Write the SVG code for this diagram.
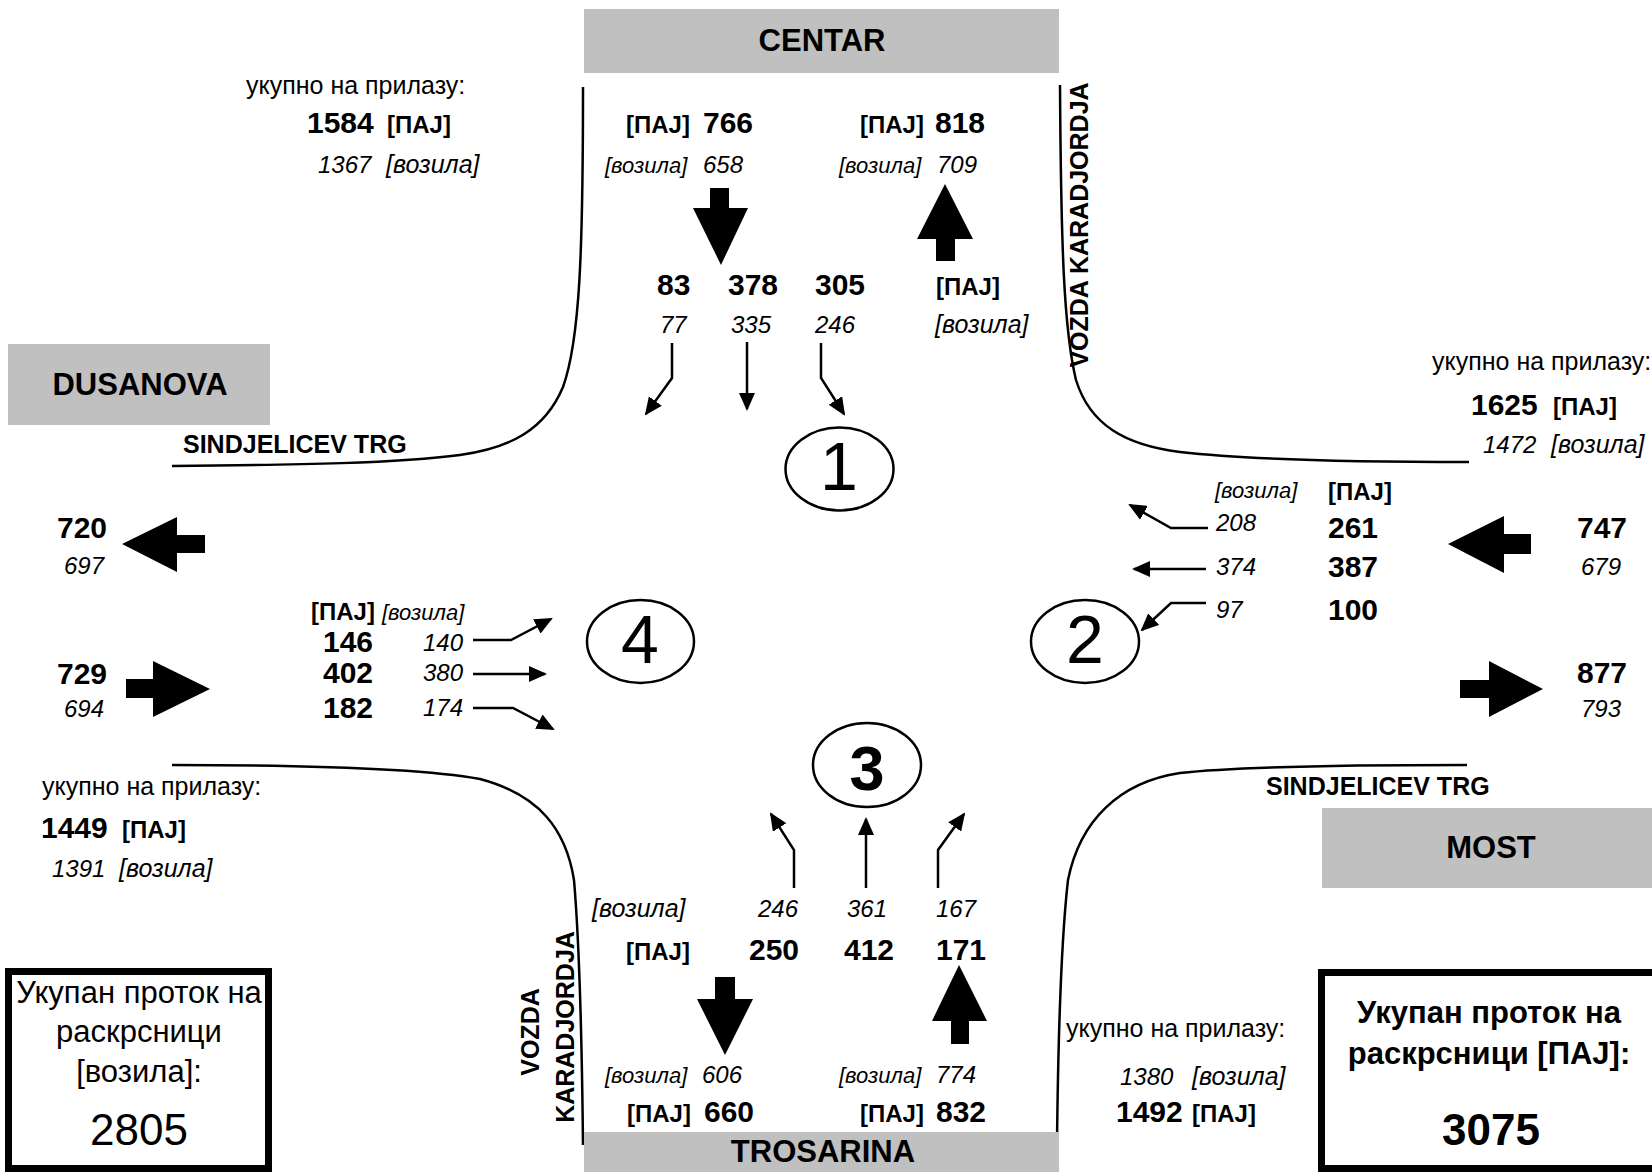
<svg xmlns="http://www.w3.org/2000/svg" width="1652" height="1172" viewBox="0 0 1652 1172">
<defs>
<style>
text{font-family:"Liberation Sans",Arial,sans-serif;fill:#000}
.reg{font-size:25px}
.bn{font-size:30px;font-weight:bold}
.bp{font-size:24px;font-weight:bold}
.it{font-size:24px;font-style:italic}
.iv{font-size:25px;font-style:italic}
.ivs{font-size:22px;font-style:italic}
.lbl{font-size:31px;font-weight:bold;text-anchor:middle}
.st{font-size:25px;font-weight:bold}
.road{fill:none;stroke:#000;stroke-width:2.5}
.gbox{fill:#c0c0c0}
.frame{fill:#fff;stroke:#000;stroke-width:7}
.circ{fill:#fff;stroke:#000;stroke-width:2.5}
.sm{fill:none;stroke:#000;stroke-width:2.5;marker-end:url(#ah)}
.big{fill:#000}
.dig{font-size:68px;text-anchor:middle}
.tl{font-size:31px;text-anchor:middle}
.tb{font-size:31px;font-weight:bold;text-anchor:middle}
</style>
<marker id="ah" viewBox="0 0 18 16" refX="16" refY="8" markerWidth="18" markerHeight="16" markerUnits="userSpaceOnUse" orient="auto">
<path d="M0,0 L18,8 L0,16 z" fill="#000"/>
</marker>
</defs>
<rect width="1652" height="1172" fill="#fff"/>

<g id="roads">
<path class="road" d="M583,87 C583,250 580,340 563,387 C545,430 510,448 460,455 C400,463 300,465 172,466"/>
<path class="road" d="M1060,85 C1061,250 1064,330 1076,380 C1090,425 1125,445 1180,452 C1250,460 1350,462 1469,462"/>
<path class="road" d="M172,765 C300,765 420,768 480,779 C540,795 566,830 574,880 C580,950 582,1050 583,1145"/>
<path class="road" d="M1467,765 C1350,765 1240,766 1180,773 C1120,782 1080,820 1068,880 C1060,950 1058,1050 1057,1143"/>
</g>

<g id="centar">
<rect class="gbox" x="584" y="9" width="475" height="64"/>
<text class="lbl" x="822" y="51">CENTAR</text>
</g>
<g id="dusanova">
<rect class="gbox" x="8" y="344" width="262" height="81"/>
<text class="lbl" x="140" y="395">DUSANOVA</text>
</g>
<g id="most">
<rect class="gbox" x="1322" y="808" width="330" height="80"/>
<text class="lbl" x="1491" y="858">MOST</text>
</g>
<g id="trosarina">
<rect class="gbox" x="584" y="1132" width="475" height="40"/>
<text class="lbl" x="823" y="1162">TROSARINA</text>
</g>

<g id="street-labels">
<text class="st" x="183" y="453">SINDJELICEV TRG</text>
<text class="st" x="1266" y="795">SINDJELICEV TRG</text>
<text class="st" text-anchor="middle" transform="translate(1088,225) rotate(-90)">VOZDA KARADJORDJA</text>
<text class="st" text-anchor="middle" transform="translate(539,1032) rotate(-90)">VOZDA</text>
<text class="st" text-anchor="middle" transform="translate(574,1027) rotate(-90)">KARADJORDJA</text>
</g>

<g id="node-1">
<ellipse class="circ" cx="839.5" cy="469" rx="54" ry="41.5"/>
<text class="dig" x="839" y="490">1</text>
</g>
<g id="node-2">
<ellipse class="circ" cx="1085" cy="641.5" rx="54" ry="41.5"/>
<text class="dig" x="1085" y="663">2</text>
</g>
<g id="node-3">
<ellipse class="circ" cx="867" cy="765" rx="54" ry="42"/>
<text class="dig" x="867" y="790" style="font-weight:bold;font-size:63px">3</text>
</g>
<g id="node-4">
<ellipse class="circ" cx="640.5" cy="641.5" rx="53.5" ry="41.5"/>
<text class="dig" x="640" y="663">4</text>
</g>

<g id="connectors">
<polyline class="sm" points="672,343 672,378 646,414"/>
<polyline class="sm" points="747,342 747,409"/>
<polyline class="sm" points="821,343 821,378 844,414"/>
<polyline class="sm" points="1208,528 1171,528 1130,505"/>
<polyline class="sm" points="1206,569 1134,569"/>
<polyline class="sm" points="1206,603 1171,603 1142,630"/>
<polyline class="sm" points="473,640 511,640 551,619"/>
<polyline class="sm" points="473,674 545,674"/>
<polyline class="sm" points="473,708 513,708 553,729"/>
<polyline class="sm" points="794,888 794,850 771,814"/>
<polyline class="sm" points="866,888 866,819"/>
<polyline class="sm" points="938,888 938,850 964,814"/>
<polygon class="big" points="710,188 729,188 729,208 748,208 721,265 693,208 710,208"/>
<polygon class="big" points="945,184 973,239 955,239 955,261 936,261 936,239 917,239"/>
<polygon class="big" points="1448,544 1504,516 1504,534 1531,534 1531,554 1504,554 1504,573"/>
<polygon class="big" points="1460,680 1489,680 1489,661 1543,689 1489,717 1489,698 1460,698"/>
<polygon class="big" points="122,544 177,517 177,535 205,535 205,553 177,553 177,572"/>
<polygon class="big" points="126,679 153,679 153,661 210,689 153,717 153,698 126,698"/>
<polygon class="big" points="715,977 735,977 735,999 753,999 725,1055 697,999 715,999"/>
<polygon class="big" points="959,965 987,1021 969,1021 969,1044 951,1044 951,1021 932,1021"/>
</g>

<g id="approach-north">
<text class="reg" x="246" y="94">укупно на прилазу:</text>
<text class="bn" x="307" y="133">1584</text>
<text class="bp" x="387" y="133">[ПАЈ]</text>
<text class="it" x="318" y="173">1367</text>
<text class="iv" x="386" y="173">[возила]</text>
<text class="bp" x="626" y="133">[ПАЈ]</text>
<text class="bn" x="703" y="133">766</text>
<text class="ivs" x="605" y="173">[возила]</text>
<text class="it" x="703" y="173">658</text>
<text class="bp" x="860" y="133">[ПАЈ]</text>
<text class="bn" x="935" y="133">818</text>
<text class="ivs" x="839" y="173">[возила]</text>
<text class="it" x="937" y="173">709</text>
<text class="bn" x="657" y="295">83</text>
<text class="bn" x="728" y="295">378</text>
<text class="bn" x="815" y="295">305</text>
<text class="bp" x="936" y="295">[ПАЈ]</text>
<text class="it" x="660" y="333">77</text>
<text class="it" x="731" y="333">335</text>
<text class="it" x="815" y="333">246</text>
<text class="iv" x="935" y="333">[возила]</text>
</g>

<g id="approach-east">
<text class="reg" x="1432" y="370">укупно на прилазу:</text>
<text class="bn" x="1471" y="415">1625</text>
<text class="bp" x="1553" y="415">[ПАЈ]</text>
<text class="it" x="1483" y="453">1472</text>
<text class="iv" x="1551" y="453">[возила]</text>
<text class="ivs" x="1215" y="498">[возила]</text>
<text class="bp" x="1328" y="500">[ПАЈ]</text>
<text class="it" x="1216" y="531">208</text>
<text class="bn" x="1328" y="538">261</text>
<text class="it" x="1216" y="575">374</text>
<text class="bn" x="1328" y="577">387</text>
<text class="it" x="1216" y="618">97</text>
<text class="bn" x="1328" y="620">100</text>
<text class="bn" x="1577" y="538">747</text>
<text class="it" x="1581" y="575">679</text>
<text class="bn" x="1577" y="683">877</text>
<text class="it" x="1581" y="717">793</text>
</g>

<g id="approach-west">
<text class="bn" x="57" y="538">720</text>
<text class="it" x="64" y="574">697</text>
<text class="bn" x="57" y="684">729</text>
<text class="it" x="64" y="717">694</text>
<text class="bp" x="311" y="620">[ПАЈ]</text>
<text class="ivs" x="382" y="620">[возила]</text>
<text class="bn" x="323" y="652">146</text>
<text class="it" x="423" y="651">140</text>
<text class="bn" x="323" y="683">402</text>
<text class="it" x="423" y="681">380</text>
<text class="bn" x="323" y="718">182</text>
<text class="it" x="423" y="716">174</text>
<text class="reg" x="42" y="795">укупно на прилазу:</text>
<text class="bn" x="41" y="838">1449</text>
<text class="bp" x="122" y="838">[ПАЈ]</text>
<text class="it" x="52" y="877">1391</text>
<text class="iv" x="119" y="877">[возила]</text>
</g>

<g id="approach-south">
<text class="iv" x="592" y="917">[возила]</text>
<text class="it" x="758" y="917">246</text>
<text class="it" x="847" y="917">361</text>
<text class="it" x="936" y="917">167</text>
<text class="bp" x="626" y="960">[ПАЈ]</text>
<text class="bn" x="749" y="960">250</text>
<text class="bn" x="844" y="960">412</text>
<text class="bn" x="936" y="960">171</text>
<text class="ivs" x="605" y="1083">[возила]</text>
<text class="it" x="702" y="1083">606</text>
<text class="ivs" x="839" y="1083">[возила]</text>
<text class="it" x="936" y="1083">774</text>
<text class="bp" x="627" y="1122">[ПАЈ]</text>
<text class="bn" x="704" y="1122">660</text>
<text class="bp" x="860" y="1122">[ПАЈ]</text>
<text class="bn" x="936" y="1122">832</text>
<text class="reg" x="1066" y="1037">укупно на прилазу:</text>
<text class="it" x="1120" y="1085">1380</text>
<text class="iv" x="1192" y="1085">[возила]</text>
<text class="bn" x="1116" y="1122">1492</text>
<text class="bp" x="1192" y="1122">[ПАЈ]</text>
</g>

<g id="total-vehicles">
<rect class="frame" x="8.5" y="971.5" width="260" height="197"/>
<text class="tl" x="139" y="1003">Укупан проток на</text>
<text class="tl" x="139" y="1042">раскрсници</text>
<text class="tl" x="139" y="1082">[возила]:</text>
<text class="tl" x="139" y="1145" style="font-size:44px">2805</text>
</g>
<g id="total-paj">
<rect class="frame" x="1321.5" y="972.5" width="340" height="196"/>
<text class="tb" x="1489" y="1023">Укупан проток на</text>
<text class="tb" x="1489" y="1064">раскрсници [ПАЈ]:</text>
<text class="tb" x="1491" y="1145" style="font-size:44px">3075</text>
</g>
</svg>
